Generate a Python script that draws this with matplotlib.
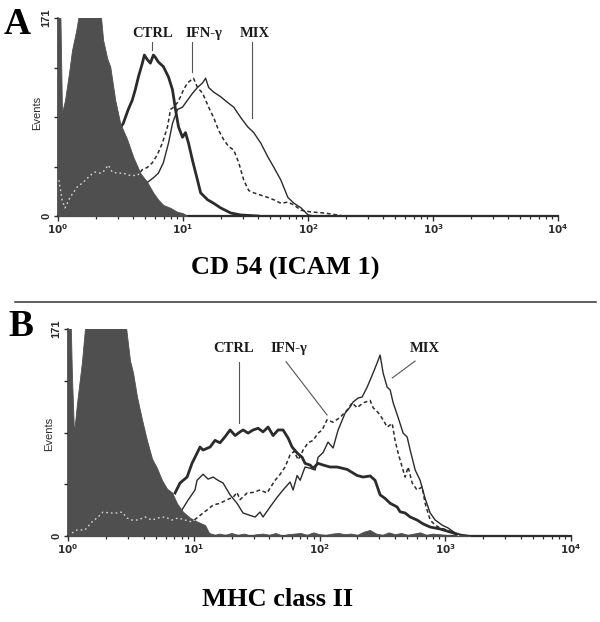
import matplotlib
matplotlib.use('Agg')
import matplotlib.pyplot as plt
from matplotlib.lines import Line2D
from matplotlib.ticker import LogLocator, NullFormatter
import numpy as np

# fluorescence in decades (log10), counts = events
# ---- panel A : CD 54 (ICAM 1)
a_neg_x = [0.0, 0.015, 0.032, 0.056, 0.09, 0.112, 0.145, 0.177, 0.257, 0.337, 0.361, 0.394, 0.418,
           0.458, 0.498, 0.554, 0.602, 0.659, 0.715, 0.763, 0.803, 0.843, 0.900, 0.956, 0.996, 1.036]
a_neg_y = [300, 200, 89, 100, 125, 143, 160, 180, 210, 180, 152, 136, 129,
           100, 80, 66, 51, 37, 29, 20, 14, 9.5, 7, 3.5, 2.6, 0]

a_ctrl_x = [0.47, 0.498, 0.522, 0.562, 0.594, 0.618, 0.643, 0.675, 0.691, 0.715, 0.739, 0.763, 0.779,
            0.803, 0.843, 0.884, 0.916, 0.940, 0.964, 0.996, 1.020, 1.044, 1.076, 1.116, 1.141, 1.197,
            1.245, 1.301, 1.382, 1.462, 1.6]
a_ctrl_y = [80, 76, 80, 92, 100, 109, 120, 132, 139, 135, 132, 139, 137,
            133, 129, 120, 109, 92, 77, 68, 72, 63, 48, 31, 20, 14,
            11, 7, 2.6, 0.9, 0]

a_ifn_x = [0.008, 0.032, 0.056, 0.096, 0.153, 0.201, 0.257, 0.297, 0.337, 0.361, 0.402, 0.434, 0.474,
           0.522, 0.578, 0.635, 0.675, 0.715, 0.755, 0.795, 0.835, 0.876, 0.900, 0.924, 0.956, 0.980,
           1.004, 1.036, 1.060, 1.084, 1.116, 1.157, 1.181, 1.205, 1.245, 1.285, 1.325, 1.365, 1.406,
           1.446, 1.486, 1.526, 1.566, 1.622, 1.679, 1.727, 1.783, 1.839, 1.888, 1.944, 2.024, 2.129, 2.289]
a_ifn_y = [31, 14, 7, 16, 25, 29, 35, 38, 37, 38, 44, 38, 37,
           37, 35, 35, 40, 42, 46, 53, 63, 77, 92, 94, 98, 103,
           109, 115, 117, 119, 111, 106, 100, 94, 85, 74, 66, 60, 57,
           46, 31, 22, 20, 18, 16, 14, 11, 12, 9.5, 5, 3.5, 2.6, 0]

a_mix_x = [0.62, 0.675, 0.715, 0.763, 0.803, 0.843, 0.884, 0.916, 0.956, 0.996, 1.036, 1.076, 1.116,
           1.157, 1.181, 1.205, 1.245, 1.301, 1.357, 1.406, 1.462, 1.518, 1.566, 1.622, 1.679, 1.727,
           1.783, 1.839, 1.888, 1.944, 2.000, 2.048]
a_mix_y = [36, 33, 29, 33, 37, 46, 63, 80, 92, 94, 100, 106, 111,
           115, 119, 111, 107, 103, 98, 94, 85, 77, 72, 63, 51, 42,
           31, 16, 11, 7, 1, 0]

# ---- panel B : MHC class II
b_neg_x = [0.0, 0.016, 0.032, 0.048, 0.072, 0.111, 0.151, 0.255, 0.374, 0.453, 0.493, 0.517, 0.549,
           0.589, 0.628, 0.668, 0.708, 0.748, 0.788, 0.827, 0.867, 0.915, 0.971, 1.026, 1.090, 1.122,
           1.17, 1.2, 1.25, 1.3, 1.35, 1.4, 1.45, 1.5, 1.55, 1.6, 1.65, 1.7, 1.75, 1.8, 1.85, 1.9,
           1.95, 2.0, 2.05, 2.1, 2.15, 2.2, 2.25, 2.3, 2.35, 2.4, 2.45, 2.5, 2.55, 2.6, 2.65, 2.7,
           2.75, 2.8, 2.85, 2.9, 2.95, 3.0, 3.05, 3.1, 3.15, 3.2]
b_neg_y = [300, 200, 130, 85, 110, 144, 190, 220, 220, 180, 145, 135, 115,
           96, 79, 64, 56, 46, 39, 36, 27, 20, 15, 12, 9, 2.5,
           1, 2, 1, 2.5, 1, 2, 0.5, 1.5, 2, 1, 2.5, 0.5, 1.5, 2, 2.5, 1,
           3, 1.5, 1, 2, 2.5, 1.5, 2, 1, 3.5, 5, 2, 1, 3, 1.5, 2.5, 1,
           2, 3, 1, 2, 1.5, 1, 0.5, 1, 0.5, 0]

b_ctrl_x = [0.851, 0.891, 0.947, 0.986, 1.010, 1.050, 1.074, 1.130, 1.169, 1.209, 1.249, 1.289, 1.329,
            1.368, 1.392, 1.432, 1.472, 1.512, 1.551, 1.591, 1.631, 1.671, 1.710, 1.750, 1.782, 1.822,
            1.862, 1.885, 1.925, 1.949, 1.989, 2.029, 2.084, 2.140, 2.220, 2.299, 2.347, 2.403, 2.442,
            2.482, 2.522, 2.562, 2.617, 2.641, 2.681, 2.721, 2.776, 2.824, 2.880, 2.959, 3.039, 3.119, 3.174]
b_ctrl_y = [35.5, 43.8, 48.7, 60, 65, 73.5, 71, 73.5, 79, 77, 82, 87.6, 83,
            86, 87.6, 85, 87.6, 89, 86, 90, 83, 87.6, 87.6, 81, 73.5, 68.6,
            65, 60, 58.6, 56, 60, 58.6, 57, 57, 55, 50, 48.7, 49.6, 46,
            34, 31, 27, 24, 20, 19, 15.7, 13.2, 10, 7.4, 5.8, 3.3, 0.8, 0]

b_ifn_x = [0.032, 0.072, 0.135, 0.191, 0.239, 0.278, 0.334, 0.390, 0.430, 0.469, 0.509, 0.557, 0.613,
           0.668, 0.716, 0.772, 0.827, 0.875, 0.931, 0.986, 1.034, 1.106, 1.154, 1.209, 1.265, 1.313,
           1.344, 1.368, 1.424, 1.472, 1.527, 1.583, 1.607, 1.647, 1.687, 1.726, 1.766, 1.798, 1.830,
           1.870, 1.909, 1.949, 1.989, 2.021, 2.060, 2.108, 2.164, 2.220, 2.259, 2.299, 2.347, 2.403,
           2.426, 2.466, 2.506, 2.538, 2.578, 2.601, 2.625, 2.657, 2.681, 2.705, 2.737, 2.776, 2.816,
           2.840, 2.880, 2.920, 2.959, 3.015, 3.063, 3.119]
b_ifn_y = [2.5, 5, 5, 11.6, 15.7, 19.8, 19, 19, 19.8, 14.9, 13.2, 13.2, 15.7,
           13.2, 14.9, 15.7, 13.2, 14.9, 13.2, 11.6, 15.7, 21.5, 25.6, 27, 30, 32,
           36, 30, 35.5, 36, 38, 35.5, 39.6, 46, 51, 57, 67, 70, 63,
           71, 77, 79, 85, 87.6, 96, 94, 98, 104, 110, 106, 110, 112,
           106, 102, 96, 90, 93, 79, 68.6, 57, 48.7, 57, 43.8, 38, 40.5,
           27, 13.2, 9, 6.6, 5, 2.5, 0]

b_mix_x = [0.891, 0.955, 1.010, 1.026, 1.074, 1.114, 1.154, 1.193, 1.233, 1.289, 1.344, 1.392, 1.448,
           1.488, 1.527, 1.551, 1.607, 1.663, 1.710, 1.766, 1.790, 1.822, 1.846, 1.885, 1.925, 1.965,
           1.989, 2.029, 2.068, 2.108, 2.148, 2.204, 2.243, 2.267, 2.307, 2.339, 2.379, 2.426, 2.466,
           2.482, 2.506, 2.538, 2.562, 2.586, 2.625, 2.665, 2.697, 2.721, 2.761, 2.800, 2.840, 2.880,
           2.920, 2.975, 3.023, 3.079, 3.134]
b_mix_y = [19, 29.7, 38, 46, 51, 47, 48.7, 46, 43.8, 34, 27, 19, 17,
           15.7, 19.8, 15.7, 24, 32, 38, 44.6, 38, 50, 46, 57, 56, 54.5,
           65, 69, 77.6, 72.7, 87.6, 101.6, 106.5, 110.7, 114, 114.8, 123, 134.6, 145,
           149.5, 134.6, 123, 120.6, 110, 98, 85, 81.8, 71, 54.5, 46, 31, 19,
           13.2, 9, 6.6, 2.5, 0]

ymax = 171
xtick_labels = [r'$\mathbf{10^0}$', r'$\mathbf{10^1}$', r'$\mathbf{10^2}$', r'$\mathbf{10^3}$', r'$\mathbf{10^4}$']

serif = 'Liberation Serif'
sans = 'Liberation Sans'
dark = '#2b2b2b'
gray = '#4f4f4f'

W, H = 600, 622
fig = plt.figure(figsize=(6, 6.22), dpi=100)


def box(x0, y0, x1, y1):
    # pixel box (top-left origin) -> figure fraction
    return [x0 / W, 1 - y1 / H, (x1 - x0) / W, (y1 - y0) / H]


def hist_panel(ax, neg, ctrl, ifn, mix):
    fill = ax.fill_between(10 ** np.array(neg[0]), neg[1], 0, color=gray, lw=0.6, edgecolor=gray, zorder=3)
    ax.plot(10 ** np.array(ctrl[0]), ctrl[1], color=dark, lw=2.0, zorder=2)
    ax.plot(10 ** np.array(mix[0]), mix[1], color=dark, lw=1.0, zorder=2)
    ax.plot(10 ** np.array(ifn[0]), ifn[1], color=dark, lw=1.1, dashes=(2.5, 1.8), zorder=2.5)
    # dotted trace shows up light where it crosses the negative control
    light, = ax.plot(10 ** np.array(ifn[0]), ifn[1], color='#d8d8d8', lw=1.0,
                     dashes=(1.2, 2.2), zorder=4)
    light.set_clip_path(fill.get_paths()[0], ax.transData)

    ax.set_xscale('log')
    ax.set_xlim(1, 1e4)
    ax.set_ylim(0, ymax)
    ax.set_xticks([1, 10, 100, 1000, 10000])
    ax.set_xticklabels(xtick_labels, fontsize=7.5, color=dark)
    ax.xaxis.set_minor_locator(LogLocator(base=10, subs=np.arange(2, 10)))
    ax.xaxis.set_minor_formatter(NullFormatter())
    ax.set_yticks([0, ymax / 4, ymax / 2, 3 * ymax / 4, ymax])
    ax.set_yticklabels(['0', '', '', '', '171'], rotation=90, va='center', fontsize=8,
                       fontfamily=sans, fontweight='bold', color=dark)
    ax.tick_params(axis='x', which='major', direction='out', length=3.5, width=1.0, pad=1, colors=dark)
    ax.tick_params(axis='x', which='minor', direction='out', length=2.2, width=0.9, colors=dark)
    ax.tick_params(axis='y', direction='out', length=3, width=1.0, pad=1.5, colors=dark)
    for s in ['top', 'right']:
        ax.spines[s].set_visible(False)
    ax.spines['bottom'].set_linewidth(1.6)
    ax.spines['left'].set_linewidth(1.1)
    ax.spines['bottom'].set_color(dark)
    ax.spines['left'].set_color(dark)
    ax.patch.set_alpha(0)


axA = fig.add_axes(box(58, 18, 558, 216))
hist_panel(axA, (a_neg_x, a_neg_y), (a_ctrl_x, a_ctrl_y), (a_ifn_x, a_ifn_y), (a_mix_x, a_mix_y))

axB = fig.add_axes(box(68, 329, 571, 536))
hist_panel(axB, (b_neg_x, b_neg_y), (b_ctrl_x, b_ctrl_y), (b_ifn_x, b_ifn_y), (b_mix_x, b_mix_y))

# labels on curves, panel A
lab = dict(fontsize=10.5, fontweight='bold', fontfamily=serif, ha='center', va='center', color='#1a1a1a')
axA.text(10 ** 0.757, 158, 'CTRL', **lab)
axA.text(10 ** 1.165, 158, 'IFN-γ', **lab)
axA.text(10 ** 1.574, 158, 'MIX', **lab)
axA.plot([10 ** 0.755, 10 ** 0.755], [150, 143], color='#555555', lw=0.8)
axA.plot([10 ** 1.068, 10 ** 1.068], [150, 124], color='#555555', lw=0.8)
axA.plot([10 ** 1.550, 10 ** 1.550], [150, 85], color='#555555', lw=0.8)

# labels on curves, panel B
axB.text(10 ** 1.313, 154.5, 'CTRL', **lab)
axB.text(10 ** 1.758, 154.5, 'IFN-γ', **lab)
axB.text(10 ** 2.840, 155, 'MIX', **lab)
axB.plot([10 ** 1.360, 10 ** 1.360], [144, 93], color='#555555', lw=0.8)
axB.plot([10 ** 1.734, 10 ** 2.060], [144, 100], color='#555555', lw=0.8)
axB.plot([10 ** 2.760, 10 ** 2.578], [144.5, 130.5], color='#555555', lw=0.8)

# panel letters, axis titles, y labels
fig.text(17 / W, 1 - 25 / H, 'A', fontsize=27, fontweight='bold', fontfamily=serif, ha='center', va='center')
fig.text(21 / W, 1 - 327 / H, 'B', fontsize=27, fontweight='bold', fontfamily=serif, ha='center', va='center')
fig.text(37 / W, 1 - 113 / H, 'Events', rotation=90, fontsize=8, fontfamily=sans, ha='center', va='center', color=dark)
fig.text(49 / W, 1 - 434 / H, 'Events', rotation=90, fontsize=8, fontfamily=sans, ha='center', va='center', color=dark)
fig.text(285 / W, 1 - 268 / H, 'CD 54 (ICAM 1)', fontsize=19, fontweight='bold', fontfamily=serif,
         ha='center', va='center')
fig.text(278 / W, 1 - 599 / H, 'MHC class II', fontsize=19, fontweight='bold', fontfamily=serif,
         ha='center', va='center')

# separator between panels
fig.add_artist(Line2D([15 / W, 596 / W], [1 - 302 / H, 1 - 302 / H], color='#333333', lw=1.1))

fig.savefig('out.png', dpi=100)
